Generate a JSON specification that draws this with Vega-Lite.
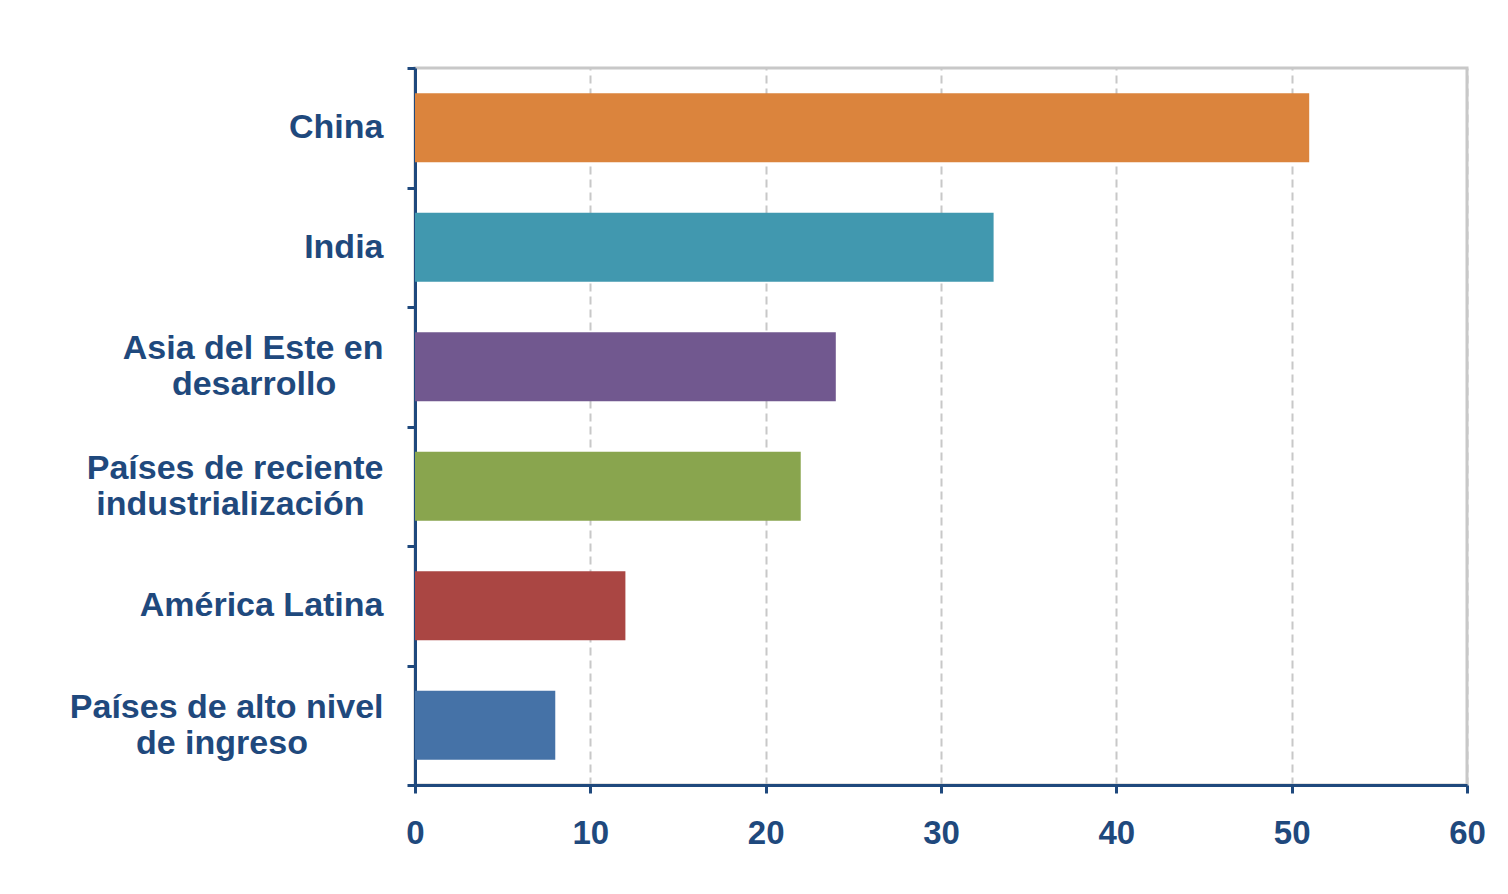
{
  "$schema": "https://vega.github.io/schema/vega-lite/v6.json",
  "width": 1052,
  "height": 717,
  "autosize": {"type": "none"},
  "padding": {"left": 415, "top": 68, "right": 41, "bottom": 109},
  "background": "white",
  "data": {
    "values": [
      {"region": "China", "value": 51, "color": "#DB843D"},
      {"region": "India", "value": 33, "color": "#4198AF"},
      {"region": "Asia del Este en|desarrollo\u00a0\u00a0\u00a0\u00a0\u00a0\u200b", "value": 24, "color": "#71588F"},
      {"region": "Países de reciente|industrialización\u00a0\u00a0\u200b", "value": 22, "color": "#89A54E"},
      {"region": "América Latina", "value": 12, "color": "#AA4643"},
      {"region": "Países de alto nivel|de ingreso\u00a0\u00a0\u00a0\u00a0\u00a0\u00a0\u00a0\u00a0\u200b", "value": 8, "color": "#4572A7"}
    ]
  },
  "mark": {"type": "bar", "orient": "horizontal", "size": 69},
  "encoding": {
    "y": {
      "field": "region",
      "type": "nominal",
      "sort": null,
      "scale": {"paddingInner": 0, "paddingOuter": 0},
      "axis": {
        "title": null,
        "tickBand": "extent",
        "domainColor": "#1F497D",
        "domainWidth": 3,
        "tickColor": "#1F497D",
        "tickWidth": 3,
        "tickSize": 8,
        "labelPadding": 24,
        "labelOffset": -18,
        "labelFont": "Liberation Sans",
        "labelFontWeight": "bold",
        "labelFontSize": 34,
        "labelColor": "#1F497D",
        "labelLineHeight": 18,
        "labelAlign": "right",
        "labelExpr": "indexof(datum.label, '|') >= 0 ? [split(datum.label, '|')[0], '\u200b', split(datum.label, '|')[1]] : ['\u200b', datum.label]",
        "labelLimit": 0,
        "grid": false
      }
    },
    "x": {
      "field": "value",
      "type": "quantitative",
      "scale": {"domain": [0, 60], "nice": false},
      "axis": {
        "title": null,
        "orient": "bottom",
        "values": [0, 10, 20, 30, 40, 50, 60],
        "domainColor": "#1F497D",
        "domainWidth": 3,
        "tickColor": "#1F497D",
        "tickWidth": 3,
        "tickSize": 8,
        "labelPadding": 24,
        "labelFont": "Liberation Sans",
        "labelFontWeight": "bold",
        "labelFontSize": 33,
        "labelColor": "#1F497D",
        "labelFlush": false,
        "grid": true,
        "gridColor": "#C8C8C8",
        "gridWidth": 2,
        "gridDash": [8, 5]
      }
    },
    "color": {"field": "color", "type": "nominal", "scale": null, "legend": null}
  },
  "config": {
    "view": {"stroke": "#C8C8C8", "strokeWidth": 3}
  }
}
